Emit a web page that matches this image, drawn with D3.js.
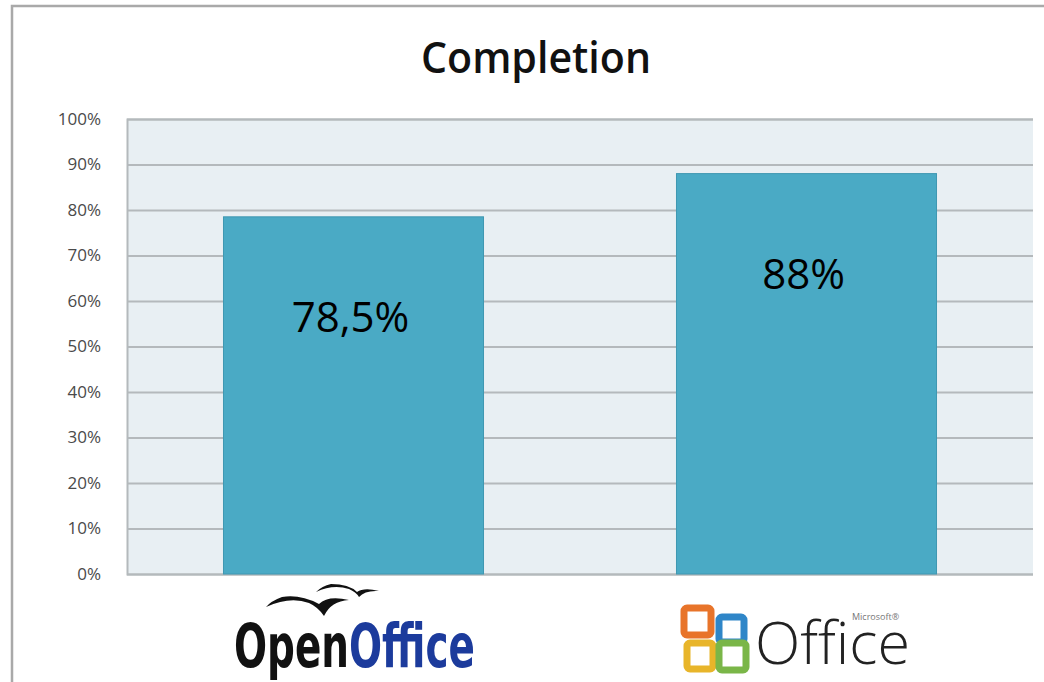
<!DOCTYPE html>
<html>
<head>
<meta charset="utf-8">
<script src="https://cdn.jsdelivr.net/npm/d3@7"></script>
<style>
  body { margin: 0; background: #fff; }
  svg { display: block; }
</style>
</head>
<body>
<script>
const w = 1044;
const h = 682;

// data
const categories = ["OpenOffice", "Office"];
const completion = [78.5, 88];
const valueLabels = ["78,5%", "88%"];
const yTicks = [0, 10, 20, 30, 40, 50, 60, 70, 80, 90, 100];

const plot = { left: 127, right: 1033, top: 119, bottom: 574 };

let svg = d3.select("body").append("svg")
    .attr("width", w)
    .attr("height", h);

// chart frame (runs off the right and bottom edges)
svg.append("rect")
    .attr("x", 12).attr("y", 6)
    .attr("width", w + 20).attr("height", h + 20)
    .attr("fill", "#fff")
    .attr("stroke", "#a9a9a9")
    .attr("stroke-width", 2.5);

svg.append("text")
    .attr("x", 421).attr("y", 73)
    .style("font-family", "'Open Sans', sans-serif")
    .style("font-weight", "600")
    .style("font-size", "43px")
    .attr("textLength", 230)
    .attr("lengthAdjust", "spacingAndGlyphs")
    .attr("fill", "#111")
    .text("Completion");

let xScale = d3.scaleBand()
    .domain(categories)
    .range([plot.left, plot.right])
    .paddingInner(0.426)
    .paddingOuter(0.213);

let yScale = d3.scaleLinear()
    .domain([0, 100])
    .range([plot.bottom, plot.top]);

svg.append("rect")
    .attr("x", plot.left).attr("y", plot.top)
    .attr("width", plot.right - plot.left)
    .attr("height", plot.bottom - plot.top)
    .attr("fill", "#e8eff3");

let yAxis = d3.axisLeft(yScale)
    .tickValues(yTicks)
    .tickSize(-(plot.right - plot.left))
    .tickPadding(26)
    .tickFormat(d => d + "%");

let gy = svg.append("g")
    .attr("transform", "translate(" + plot.left + ",0)")
    .call(yAxis);
gy.select(".domain").attr("stroke", "#b4b9bc").attr("stroke-width", 2);
gy.selectAll(".tick line").attr("stroke", "#b4b9bc").attr("stroke-width", 2);
gy.selectAll(".tick text")
    .attr("fill", "#4a4a4a")
    .style("font-family", "'Open Sans', sans-serif")
    .style("font-size", "17px");

svg.selectAll("rect.bar")
    .data(completion)
    .enter()
    .append("rect")
    .attr("class", "bar")
    .attr("x", (d, i) => xScale(categories[i]))
    .attr("y", d => yScale(d))
    .attr("width", xScale.bandwidth())
    .attr("height", d => yScale(0) - yScale(d))
    .attr("fill", "#4aaac5")
    .attr("stroke", "#3f98b2")
    .attr("stroke-width", 1);

svg.selectAll(".labelText")
    .data(completion)
    .enter()
    .append("text")
    .attr("class", "labelText")
    .attr("x", (d, i) => xScale(categories[i]) + xScale.bandwidth() / 2 - 3)
    .attr("y", d => yScale(d) + 115)
    .attr("text-anchor", "middle")
    .style("font-family", "'Open Sans', sans-serif")
    .style("font-size", "42px")
    .attr("fill", "#000")
    .text((d, i) => valueLabels[i]);

// OpenOffice logo: two gulls and the word mark
let oo = svg.append("g");
oo.append("path")
    .attr("d", "M316,592 Q333,584 349,589 Q356,592 359,597 Q365,590 379,591 Q364,587 357,592 Q349,584 331,584 Q322,586 316,592 Z")
    .attr("fill", "#111");
oo.append("path")
    .attr("d", "M266,607 Q290,596 309,603 Q318,607 324,616 Q331,601 349,600 Q328,595 319,604 Q300,594 282,597 Q271,601 266,607 Z")
    .attr("fill", "#111");
let ooText = oo.append("text")
    .attr("x", 234).attr("y", 667)
    .style("font-family", "'Liberation Sans Narrow', 'DejaVu Sans Condensed', sans-serif")
    .style("font-weight", "bold")
    .style("font-size", "60px")
    .attr("textLength", 241)
    .attr("lengthAdjust", "spacingAndGlyphs");
ooText.append("tspan").attr("fill", "#111").text("Open");
ooText.append("tspan").attr("fill", "#1c3b9c").text("Office");

// Microsoft Office logo
let ms = svg.append("g");
const squares = [
    { x: 684, y: 608, s: 27, c: "#e8742a" },
    { x: 719, y: 617, s: 25, c: "#2f86c8" },
    { x: 687, y: 643, s: 26, c: "#e8b52a" },
    { x: 719, y: 643, s: 27, c: "#7ab648" }
];
ms.selectAll("rect")
    .data(squares)
    .enter()
    .append("rect")
    .attr("x", d => d.x).attr("y", d => d.y)
    .attr("width", d => d.s).attr("height", d => d.s)
    .attr("rx", 3)
    .attr("fill", "none")
    .attr("stroke", d => d.c)
    .attr("stroke-width", 7);
ms.append("text")
    .attr("x", 755).attr("y", 664)
    .style("font-family", "'Open Sans', sans-serif")
    .style("font-weight", "300")
    .style("font-size", "58px")
    .attr("textLength", 155)
    .attr("lengthAdjust", "spacingAndGlyphs")
    .attr("fill", "#222")
    .text("Office");
ms.append("text")
    .attr("x", 852).attr("y", 620)
    .style("font-family", "'Open Sans', sans-serif")
    .style("font-size", "9px")
    .attr("fill", "#777")
    .text("Microsoft®");
</script>
</body>
</html>
